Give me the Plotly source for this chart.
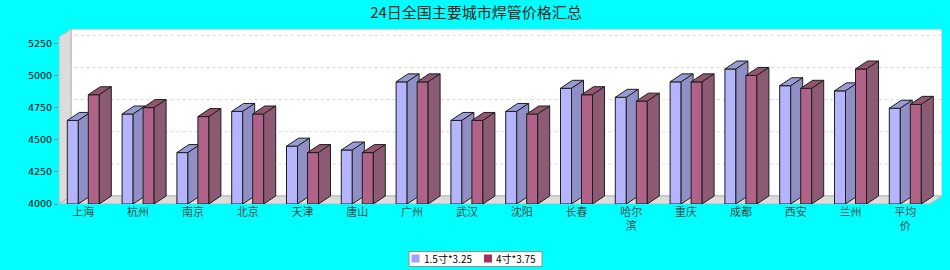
import plotly.graph_objects as go

# ---------------- data ----------------
categories = ["上海", "杭州", "南京", "北京", "天津", "唐山", "广州", "武汉",
              "沈阳", "长春", "哈尔滨", "重庆", "成都", "西安", "兰州", "平均价"]
tick_labels = ["上海", "杭州", "南京", "北京", "天津", "唐山", "广州", "武汉",
               "沈阳", "长春", "哈尔<br>滨", "重庆", "成都", "西安", "兰州", "平均<br>价"]
series_names = ["1.5寸*3.25", "4寸*3.75"]
values_15 = [4650, 4700, 4400, 4720, 4450, 4420, 4950, 4650,
             4720, 4900, 4830, 4950, 5050, 4920, 4880, 4745]
values_4 = [4850, 4750, 4680, 4700, 4400, 4400, 4950, 4650,
            4700, 4850, 4800, 4950, 5000, 4900, 5050, 4775]
y_ticks = [4000, 4250, 4500, 4750, 5000, 5250]
title_text = "24日全国主要城市焊管价格汇总"

# ---------------- geometry (pixels) ----------------
W_PX, H_PX = 950, 270
PX_L, PX_R, PX_T, PX_B = 59, 942, 29, 204      # plot area incl. 3D depth
DEPTH_X, DEPTH_Y = 12, 8                        # 3D offset in px
CAT0_PX, CAT_STEP_PX = 83.3, 54.8               # first category centre, step
BAR_W_PX = 11
BAR_OFF_PX = [-16.0, 5.0]                       # front-face left edge rel. to centre
Y_BASE = 4000
PX_PER_UNIT = (204 - 43.3) / (5250 - 4000)

x_min = (PX_L - CAT0_PX) / CAT_STEP_PX
x_max = (PX_R - CAT0_PX) / CAT_STEP_PX
x_front_max = x_max - DEPTH_X / CAT_STEP_PX
y_max = Y_BASE + (PX_B - PX_T) / PX_PER_UNIT
y_front_max = y_max - DEPTH_Y / PX_PER_UNIT
DX = DEPTH_X / CAT_STEP_PX
DY = DEPTH_Y / PX_PER_UNIT
BW = BAR_W_PX / CAT_STEP_PX

front_colors = ["#b4b4ff", "#b06288"]
top_colors = ["#9a9ad4", "#92566f"]
side_colors = ["#8f8fc6", "#8c5a72"]
legend_colors = ["#a0a0ff", "#a03262"]
EDGE = "#1e1e1e"

fig = go.Figure()


def poly_trace(xs, ys, fill, line_color, width=1, name=None, show=False):
    return go.Scatter(x=xs, y=ys, mode="lines", fill="toself", fillcolor=fill,
                      line=dict(color=line_color, width=width),
                      hoverinfo="skip", showlegend=show, name=name)


# back wall
bx0 = x_min + DX
fig.add_trace(poly_trace([bx0, x_max, x_max, bx0, bx0],
                         [Y_BASE + DY, Y_BASE + DY, y_max, y_max, Y_BASE + DY],
                         "#ffffff", "#b0b0b0"))
# left wall
fig.add_trace(poly_trace([x_min, bx0, bx0, x_min, x_min],
                         [Y_BASE, Y_BASE + DY, y_max, y_front_max, Y_BASE],
                         "#dcdcdc", "#b8b8b8"))
# floor
fig.add_trace(poly_trace([x_min, x_front_max, x_max, bx0, x_min],
                         [Y_BASE, Y_BASE, Y_BASE + DY, Y_BASE + DY, Y_BASE],
                         "#dcdcdc", "#b8b8b8"))

# gridlines (slanted on left wall + flat on back wall)
gx, gy = [], []
for v in y_ticks[1:]:
    gx += [x_min, bx0, x_max, None]
    gy += [v, v + DY, v + DY, None]
fig.add_trace(go.Scatter(x=gx, y=gy, mode="lines",
                         line=dict(color="#d8d8d8", width=1, dash="3px,3px"),
                         hoverinfo="skip", showlegend=False))

# bars
for s, vals in enumerate([values_15, values_4]):
    off = BAR_OFF_PX[s] / CAT_STEP_PX
    fx, fy, tx, ty, sx, sy = [], [], [], [], [], []
    for i, v in enumerate(vals):
        x0 = i + off
        x1 = x0 + BW
        fx += [x0, x0, x1, x1, x0, None]
        fy += [Y_BASE, v, v, Y_BASE, Y_BASE, None]
        tx += [x0, x0 + DX, x1 + DX, x1, x0, None]
        ty += [v, v + DY, v + DY, v, v, None]
        sx += [x1, x1 + DX, x1 + DX, x1, x1, None]
        sy += [Y_BASE, Y_BASE + DY, v + DY, v, Y_BASE, None]
    fig.add_trace(poly_trace(fx, fy, front_colors[s], EDGE, name=series_names[s]))
    fig.add_trace(poly_trace(tx, ty, top_colors[s], EDGE))
    fig.add_trace(poly_trace(sx, sy, side_colors[s], EDGE))

# ---------------- legend box (drawn in paper coords from pixel layout) ----------------
plot_w = PX_R - PX_L
plot_h = PX_B - PX_T


def px_x(p):
    return (p - PX_L) / plot_w


def px_y(p):
    return (PX_B - p) / plot_h


LEG_BOX = (409, 251.5, 542, 266.5)
LEG_SQ_X = [411.5, 484]
LEG_TXT_X = [421.5, 493.5]
LEG_CY = 258.5
SQ = 8

fig.add_shape(type="rect", xref="paper", yref="paper",
              x0=px_x(LEG_BOX[0]), x1=px_x(LEG_BOX[2]),
              y0=px_y(LEG_BOX[3]), y1=px_y(LEG_BOX[1]),
              fillcolor="#ffffff", line=dict(color="#909090", width=1), layer="above")
for s in range(2):
    fig.add_shape(type="rect", xref="paper", yref="paper",
                  x0=px_x(LEG_SQ_X[s]), x1=px_x(LEG_SQ_X[s] + SQ),
                  y0=px_y(LEG_CY + SQ / 2), y1=px_y(LEG_CY - SQ / 2),
                  fillcolor=legend_colors[s], line=dict(width=0), layer="above")
    fig.add_annotation(x=px_x(LEG_TXT_X[s]), y=px_y(LEG_CY), xref="paper", yref="paper",
                       xanchor="left", yanchor="middle", showarrow=False,
                       text=series_names[s],
                       font=dict(family="Noto Sans CJK SC", size=10, color="#000000"))

fig.update_layout(
    width=W_PX, height=H_PX,
    margin=dict(l=PX_L, r=W_PX - PX_R, t=PX_T, b=H_PX - PX_B, pad=0, autoexpand=False),
    paper_bgcolor="#00ffff", plot_bgcolor="#00ffff",
    title=dict(text=title_text, x=476 / W_PX, xanchor="center",
               y=1 - 12.5 / H_PX, yanchor="middle",
               font=dict(family="Noto Sans CJK SC", size=15, color="#222222")),
    xaxis=dict(range=[x_min, x_max], tickvals=list(range(len(categories))),
               ticktext=tick_labels, showgrid=False, zeroline=False, showline=False,
               ticks="", fixedrange=True,
               tickfont=dict(family="Noto Sans CJK SC", size=11, color="#3a4a4a")),
    yaxis=dict(range=[Y_BASE, y_max], tickvals=y_ticks, showgrid=False, zeroline=False,
               showline=False, ticks="outside", ticklen=4, tickcolor="#a08080",
               fixedrange=True,
               tickfont=dict(family="DejaVu Sans", size=9.5, color="#000000")),
    showlegend=False,
)

fig.write_html("out.html")
